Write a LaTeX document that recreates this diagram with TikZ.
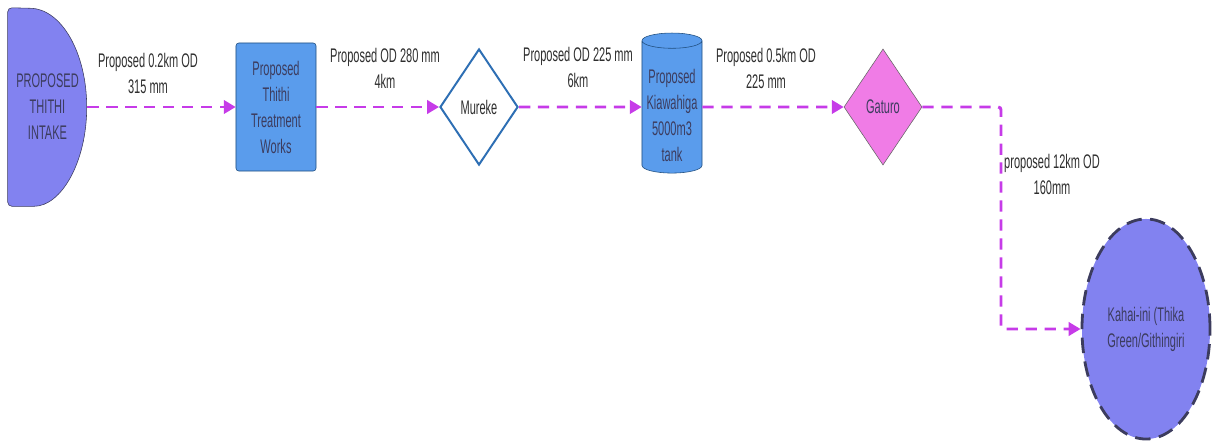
\documentclass[tikz,border=0pt]{standalone}
\usepackage{fontspec}
\setmainfont{Liberation Sans}[FakeStretch=0.56]
\usetikzlibrary{shapes.geometric,arrows.meta,positioning,calc,backgrounds}
\definecolor{pipecol}{HTML}{C63BE8}
\definecolor{intakeblue}{HTML}{8282F0}
\definecolor{boxblue}{HTML}{5A9CEC}
\definecolor{edgeblue}{HTML}{2E6FB4}
\definecolor{pinkfill}{HTML}{F07CE6}
\definecolor{darktext}{HTML}{3C3C5E}
\definecolor{labeltext}{HTML}{2E2E2E}

\begin{document}
\begin{tikzpicture}[x=0.025cm, y=-0.025cm,
    every node/.style={font=\fontsize{14}{18.5}\selectfont, align=center, text=labeltext},
    pipe/.style={draw=pipecol, line width=2.1pt, dash pattern=on 8pt off 5.5pt,
        -{Triangle[length=8.5pt,width=9.5pt]}},
    tankbox/.style={cylinder, shape border rotate=90, aspect=0.3, fill=boxblue,
        draw=edgeblue!70!black, minimum width=1.5cm, minimum height=3.5cm, inner sep=0pt},
    junction/.style={diamond, aspect=0.66, inner sep=0pt, minimum width=1.95cm, minimum height=2.9cm}]
    \useasboundingbox (0,0) rectangle (1212,441);

    % Intake
    \node[minimum width=1.975cm, minimum height=4.95cm, inner sep=0pt, text=darktext] (intake) at (47.5,107) {PROPOSED\\THITHI\\INTAKE};
    \begin{scope}[on background layer]
        \draw[fill=intakeblue, draw=darktext, rounded corners=3pt] (intake.north west) -- (intake.south west) -- ++(22,0)
            [rounded corners=0pt] arc[start angle=-90, end angle=0, x radius=1.425cm, y radius=2.475cm]
            arc[start angle=0, end angle=90, x radius=1.425cm, y radius=2.475cm] [rounded corners=3pt] -- cycle;
    \end{scope}

    % Stations
    \node[draw=edgeblue!70!black, fill=boxblue, rounded corners=2pt, minimum width=2cm, minimum height=3.2cm, inner sep=0pt, text=darktext] (works) at (276,107) {Proposed\\Thithi\\Treatment\\Works};
    \node[junction, draw=edgeblue, line width=1.4pt, fill=white] (mureke) at (479,107) {Mureke};
    \node[tankbox, text=darktext] (tank) at (672,107)
        {\raisebox{-7pt}[\height][\depth]{\begin{tabular}{@{}c@{}}Proposed\\Kiawahiga\\5000m3\\tank\end{tabular}}};
    \node[junction, draw=black!60, fill=pinkfill, text=darktext] (gaturo) at (883,107) {Gaturo};
    \node[ellipse, draw=darktext, line width=2pt, dash pattern=on 11pt off 6pt, fill=intakeblue,
        minimum width=3.2cm, minimum height=5.5cm, inner sep=0pt, text=darktext] (kahai) at (1146,329) {Kahai-ini (Thika\\Green/Githingiri};
    \coordinate (bend) at (1001,107);

    % Pipes
    \draw[pipe] (intake.east) -- (works);
    \draw[pipe] (works) -- (mureke);
    \draw[pipe] (mureke) -- (tank);
    \draw[pipe] (tank) -- (gaturo);
    \draw[pipe, rounded corners=2pt] (gaturo.east) -- (bend) |- (kahai.west);

    % Pipe labels
    \node (odone) at (148,73) {Proposed 0.2km OD\\315 mm};
    \node (odtwo) at (385,68) {Proposed OD 280 mm\\4km};
    \node (odthree) at (578,67) {Proposed OD 225 mm\\6km};
    \node (odfour) at (766,68) {Proposed 0.5km OD\\225 mm};
    \node (odfive) at (1052,174) {proposed 12km OD\\160mm};
\end{tikzpicture}
\end{document}
